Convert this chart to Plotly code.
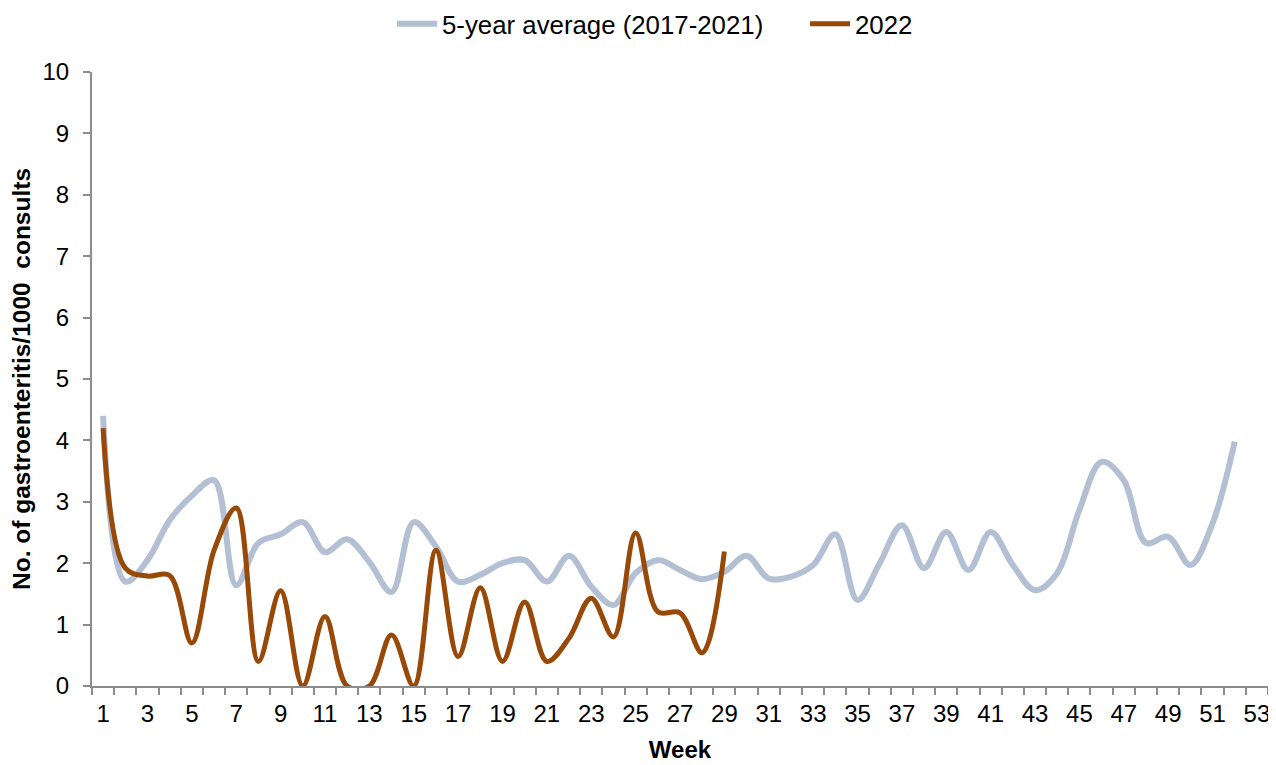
import plotly.graph_objects as go

weeks = list(range(1, 54))
avg_weeks = list(range(1, 53))
avg_2017_2021 = [4.4, 1.7, 2.05, 2.7, 3.1, 3.35, 1.64, 2.33, 2.47, 2.67,
                 2.18, 2.39, 2.02, 1.53, 2.67, 2.27, 1.70, 1.81, 2.0, 2.05,
                 1.70, 2.12, 1.62, 1.32, 1.84, 2.05, 1.89, 1.74, 1.86, 2.12,
                 1.75, 1.78, 1.97, 2.47, 1.40, 2.0, 2.62, 1.92, 2.51, 1.89,
                 2.51, 1.97, 1.56, 1.84, 2.87, 3.65, 3.35, 2.33, 2.43, 1.97,
                 2.65, 3.98]
weeks_2022 = list(range(1, 30))
y_2022 = [4.2, 1.92, 1.79, 1.8, 0.70, 2.21, 2.9, 0.40, 1.55, 0.0,
          1.13, 0.0, 0.0, 0.83, 0.0, 2.21, 0.48, 1.6, 0.40, 1.37,
          0.40, 0.78, 1.43, 0.80, 2.49, 1.21, 1.19, 0.54, 2.19]
tick_weeks = [w for w in weeks if w % 2 == 1]
tick_labels = [str(w) for w in tick_weeks]

FONT = "Liberation Sans, Arial, sans-serif"
AXIS_COLOR = "#8C8C8C"

# page body has an 8px margin, so the figure is sized/offset to compensate
W, H = 1268, 757

fig = go.Figure()
fig.add_trace(go.Scatter(
    x=avg_weeks, y=avg_2017_2021, mode="lines", name="5-year average (2017-2021)",
    line=dict(color="#B3BFD3", width=6, shape="spline", smoothing=1.0),
))
fig.add_trace(go.Scatter(
    x=weeks_2022, y=y_2022, mode="lines", name="2022",
    line=dict(color="#984807", width=5, shape="spline", smoothing=1.0),
))

fig.update_layout(
    width=W, height=H,
    margin=dict(l=84, r=8, t=64, b=79, autoexpand=False),
    paper_bgcolor="white", plot_bgcolor="white",
    font=dict(family=FONT, size=24, color="#000000"),
    legend=dict(orientation="h", xref="container", yref="container",
                x=(397 - 8 - 5) / W, xanchor="left", y=1 - 16 / H, yanchor="middle",
                font=dict(size=25.8), itemwidth=40, tracegroupgap=0,
                entrywidth=358, entrywidthmode="pixels",
                bgcolor="rgba(0,0,0,0)"),
    showlegend=True,
)
fig.update_xaxes(
    range=[0.5, 53.5], tickmode="array", tickvals=tick_weeks, ticktext=tick_labels,
    ticks="", ticklabelstandoff=5, automargin=False,
    showline=True, linecolor=AXIS_COLOR, linewidth=2, showgrid=False, zeroline=False,
    minor=dict(tickmode="linear", tick0=0.5, dtick=1, ticks="outside", ticklen=7,
               tickcolor=AXIS_COLOR, tickwidth=2, showgrid=False),
    title=dict(text="<b>Week</b>", font=dict(size=24), standoff=15),
    tickfont=dict(size=24),
)
fig.update_yaxes(
    range=[0, 10], tickmode="linear", tick0=0, dtick=1,
    ticks="outside", ticklen=7, tickcolor=AXIS_COLOR, tickwidth=2,
    ticklabelstandoff=9, automargin=False,
    showline=True, linecolor=AXIS_COLOR, linewidth=2, showgrid=False, zeroline=False,
    title=dict(text="<b>No. of gastroenteritis/1000  consults</b>", font=dict(size=24.5), standoff=6),
    tickfont=dict(size=24),
)

fig.write_html("out.html")
